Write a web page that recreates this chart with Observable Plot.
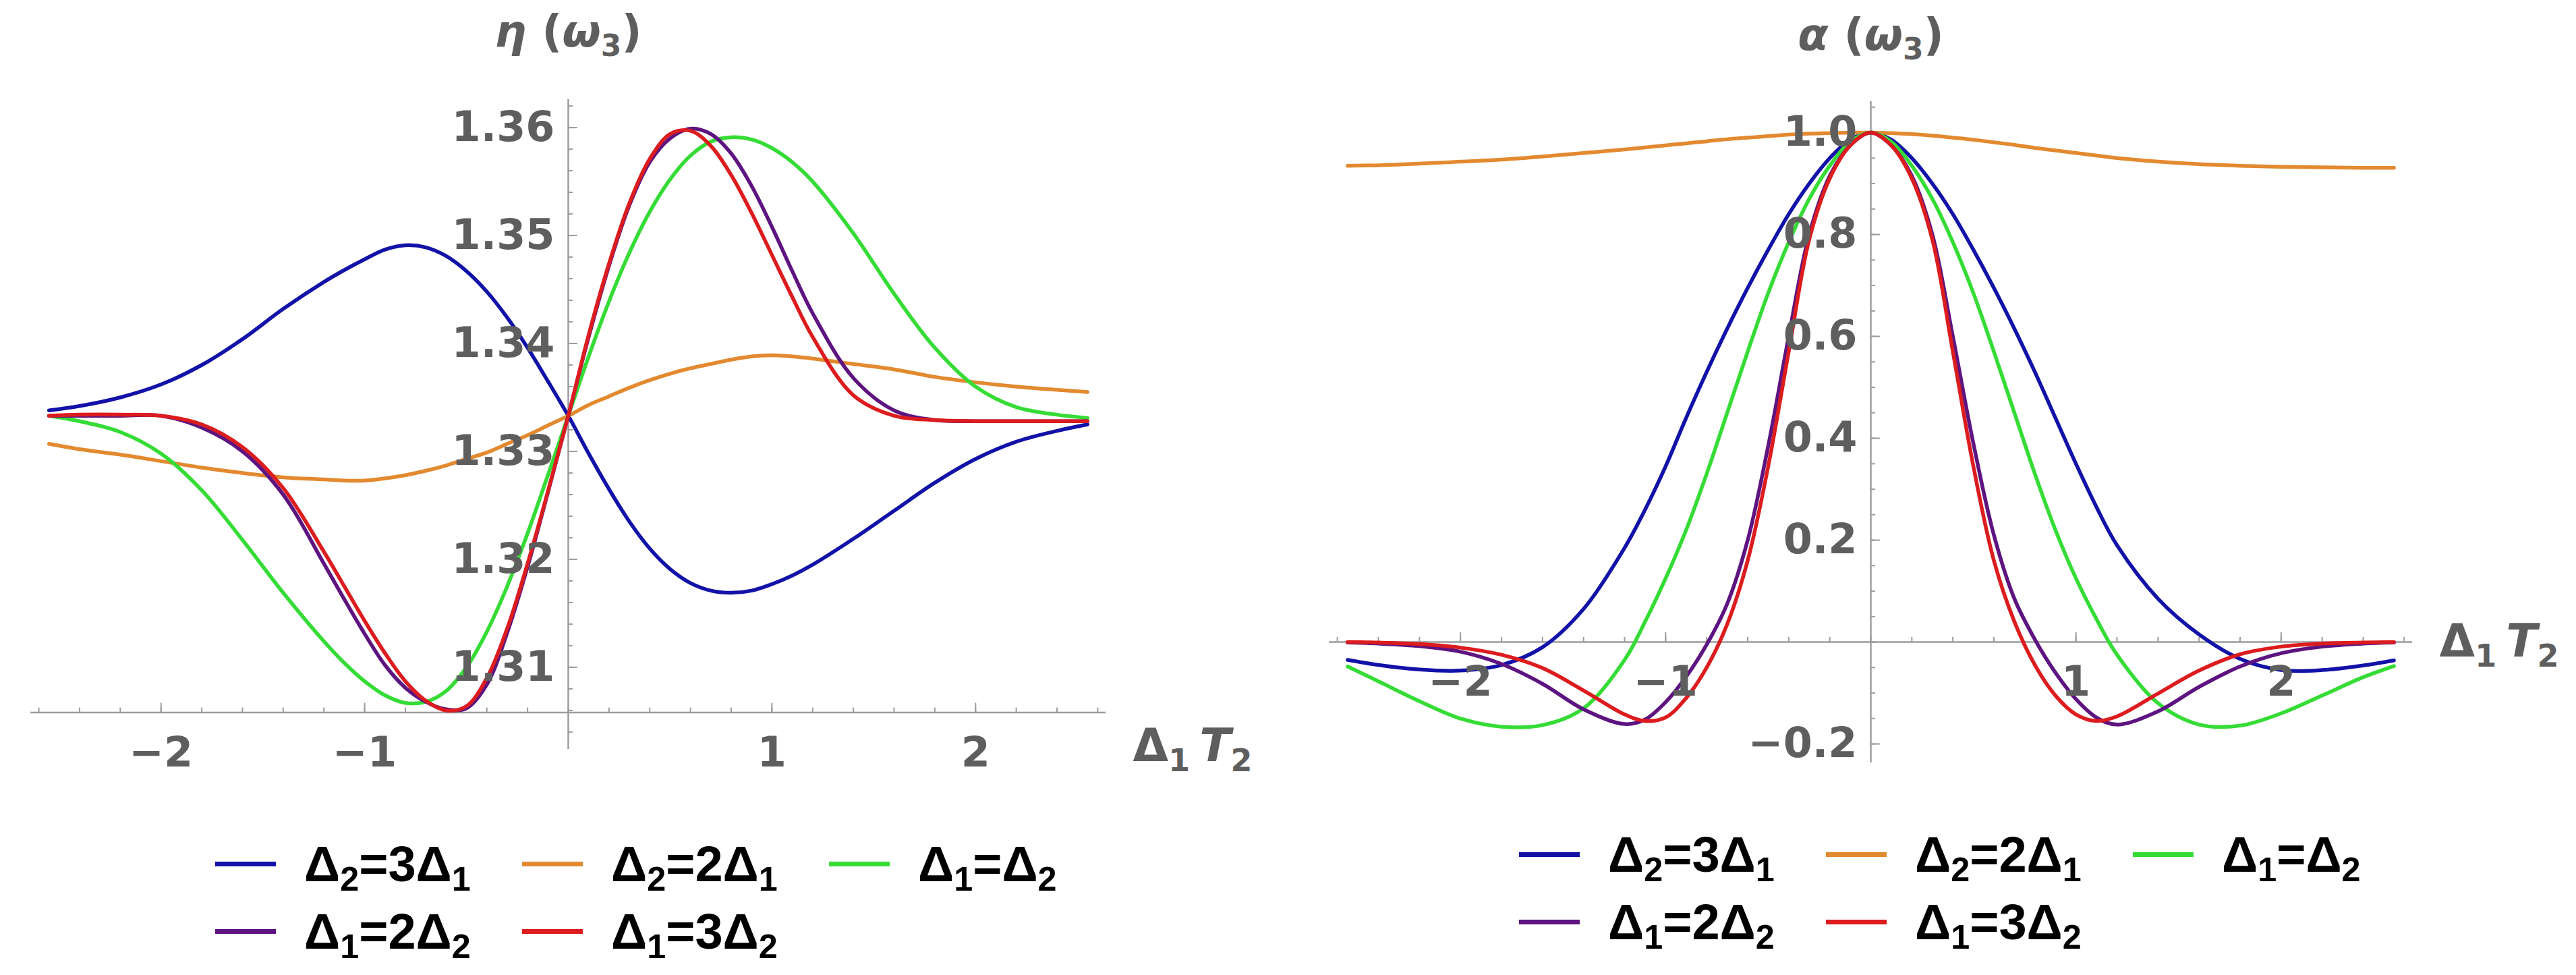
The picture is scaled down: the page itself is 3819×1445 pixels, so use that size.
<!DOCTYPE html>
<html><head><meta charset="utf-8">
<script src="https://cdn.jsdelivr.net/npm/d3@7"></script>
<script src="https://cdn.jsdelivr.net/npm/@observablehq/plot@0.6"></script>
<style>
html,body{margin:0;padding:0;background:#fff;}
#root{position:relative;width:3819px;height:1445px;overflow:hidden;background:#fff;}
.panel{position:absolute;top:0;}
.item{position:absolute;display:flex;align-items:center;white-space:nowrap;height:100px;
  font-family:"Liberation Sans",Arial,sans-serif;font-weight:bold;font-size:74px;color:#000;}
.sw{display:inline-block;height:7px;width:90px;margin-right:42px;}
.item sub{font-size:68%;vertical-align:-0.28em;line-height:0;}
</style></head><body><div id="root"></div><script>
// ---------------- data ----------------
const xs = [-2.55,-2.4,-2.2,-2.0,-1.8,-1.6,-1.4,-1.2,-1.1,-1.0,-0.9,-0.8,-0.7,-0.6,-0.5,-0.4,-0.3,-0.2,-0.1,0,
            0.1,0.2,0.3,0.4,0.5,0.6,0.7,0.8,0.9,1.0,1.1,1.2,1.4,1.6,1.8,2.0,2.2,2.4,2.55];

const seriesNames  = ["Δ2=3Δ1","Δ2=2Δ1","Δ1=Δ2","Δ1=2Δ2","Δ1=3Δ2"];
const seriesColors = ["#1212a8","#e3892f","#35dc35","#5e1480","#dc1c1e"];

// η(ω3)
const etaBlue   = [1.3338,1.3342,1.3350,1.3362,1.3380,1.3404,1.3432,1.3457,1.3468,1.3478,1.3487,1.3491,1.3489,1.3481,1.3467,1.3448,1.3424,1.3396,1.3365,1.3333,
                   1.3298,1.3265,1.3235,1.3210,1.3191,1.3178,1.3171,1.3169,1.3171,1.3177,1.3185,1.3195,1.3219,1.3245,1.3271,1.3293,1.3309,1.3319,1.3325];
const etaOrange = [1.3307,1.3302,1.3297,1.3291,1.3285,1.3280,1.3276,1.3274,1.3273,1.3273,1.3275,1.3278,1.3282,1.3287,1.3293,1.3299,1.3307,1.3315,1.3324,1.3333,
                   1.3343,1.3351,1.3359,1.3366,1.3372,1.3377,1.3381,1.3385,1.3388,1.3389,1.3388,1.3386,1.3381,1.3376,1.3369,1.3364,1.3360,1.3357,1.3355];
const etaGreen  = [1.3333,1.3328,1.3318,1.3298,1.3264,1.3218,1.3169,1.3124,1.3104,1.3087,1.3074,1.3067,1.3068,1.3078,1.3100,1.3133,1.3175,1.3224,1.3278,1.3333,
                   1.3388,1.3439,1.3484,1.3522,1.3552,1.3574,1.3587,1.3591,1.3589,1.3581,1.3568,1.3550,1.3502,1.3446,1.3396,1.3360,1.3341,1.3334,1.3331];
const etaPurple = [1.3333,1.3333,1.3333,1.3333,1.3322,1.3300,1.3260,1.3196,1.3163,1.3131,1.3102,1.3081,1.3068,1.3061,1.3062,1.3084,1.3132,1.3193,1.3262,1.3333,
                   1.3406,1.3472,1.3528,1.3568,1.3590,1.3599,1.3594,1.3576,1.3546,1.3508,1.3467,1.3428,1.3368,1.3338,1.3329,1.3328,1.3328,1.3328,1.3328];
const etaRed    = [1.3333,1.3334,1.3334,1.3333,1.3325,1.3304,1.3266,1.3207,1.3175,1.3143,1.3113,1.3087,1.3069,1.3060,1.3064,1.3090,1.3136,1.3196,1.3263,1.3333,
                   1.3408,1.3474,1.3530,1.3571,1.3594,1.3597,1.3583,1.3556,1.3521,1.3482,1.3443,1.3406,1.3352,1.3333,1.3329,1.3328,1.3328,1.3328,1.3328];

// α(ω3)
const alphaBlue   = [-0.035,-0.045,-0.054,-0.056,-0.045,-0.010,0.065,0.185,0.260,0.345,0.440,0.530,0.615,0.695,0.770,0.840,0.900,0.950,0.986,1.000,
                     0.986,0.950,0.900,0.840,0.770,0.695,0.615,0.530,0.440,0.350,0.265,0.190,0.085,0.015,-0.033,-0.055,-0.055,-0.046,-0.036];
const alphaOrange = [0.935,0.936,0.939,0.943,0.947,0.953,0.960,0.967,0.971,0.975,0.979,0.983,0.987,0.990,0.993,0.996,0.998,0.999,1.000,1.000,
                     0.999,0.997,0.994,0.990,0.986,0.981,0.976,0.970,0.965,0.960,0.955,0.950,0.943,0.938,0.935,0.933,0.932,0.931,0.931];
const alphaGreen  = [-0.048,-0.077,-0.116,-0.150,-0.166,-0.163,-0.130,-0.035,0.040,0.125,0.220,0.330,0.450,0.570,0.685,0.785,0.870,0.935,0.982,1.000,
                     0.982,0.935,0.870,0.785,0.685,0.570,0.450,0.330,0.220,0.125,0.045,-0.025,-0.120,-0.162,-0.164,-0.140,-0.105,-0.069,-0.047];
const alphaPurple = [-0.001,-0.003,-0.008,-0.019,-0.043,-0.082,-0.132,-0.161,-0.152,-0.118,-0.068,-0.005,0.075,0.200,0.385,0.600,0.800,0.915,0.975,1.000,
                     0.975,0.915,0.800,0.600,0.390,0.210,0.085,0.005,-0.060,-0.112,-0.148,-0.162,-0.136,-0.088,-0.048,-0.022,-0.009,-0.003,-0.001];
const alphaRed    = [0.000,-0.001,-0.004,-0.011,-0.025,-0.051,-0.095,-0.142,-0.155,-0.148,-0.110,-0.050,0.035,0.160,0.345,0.570,0.790,0.910,0.975,1.000,
                     0.975,0.910,0.790,0.570,0.345,0.160,0.040,-0.045,-0.105,-0.142,-0.155,-0.146,-0.101,-0.056,-0.024,-0.009,-0.003,-0.001,0.000];

// ticks
const xTicks = [-2,-1,1,2];
const xTickLabels = ["−2","−1","1","2"];
const etaTicks = [1.31,1.32,1.33,1.34,1.35,1.36];
const etaTickLabels = ["1.31","1.32","1.33","1.34","1.35","1.36"];
const alphaTicks = [-0.2,0.2,0.4,0.6,0.8,1.0];
const alphaTickLabels = ["−0.2","0.2","0.4","0.6","0.8","1.0"];

// ---------------- drawing ----------------
const GRAY_TEXT = "#5e5e5e", AXIS = "#9c9c9c";
const FONT = "DejaVu Sans, Verdana, sans-serif";
const xDomain = [-2.64, 2.64];

const rich = {
  "Δ1 T2": 'Δ<tspan font-size="46px" dy="15">1</tspan><tspan dx="14" dy="-15" font-style="italic">T</tspan><tspan font-size="46px" dy="15">2</tspan>',
  "η(ω3)": '<tspan font-style="italic">η</tspan> (<tspan font-style="italic">ω</tspan><tspan font-size="44px" dy="14">3</tspan><tspan dy="-14">)</tspan>',
  "α(ω3)": '<tspan font-style="italic">α</tspan> (<tspan font-style="italic">ω</tspan><tspan font-size="44px" dy="14">3</tspan><tspan dy="-14">)</tspan>'
};

function panel(o) {
  const marks = [
    Plot.ruleY([o.axisY], {stroke: AXIS, strokeWidth: 2.5}),
    Plot.ruleX([0], {stroke: AXIS, strokeWidth: 2.5}),
    Plot.ruleX(d3.range(-2.6, 2.61, 0.2).map(v => +v.toFixed(1)), {x: d => d, y1: o.axisY, y2: o.axisY, insetTop: -7, stroke: AXIS, strokeWidth: 2}),
    Plot.ruleX(xTicks, {x: d => d, y1: o.axisY, y2: o.axisY, insetTop: -14, stroke: AXIS, strokeWidth: 2}),
    Plot.ruleY(o.yMinor, {y: d => d, x1: 0, x2: 0, insetRight: -7, stroke: AXIS, strokeWidth: 2}),
    Plot.ruleY(o.yTicks, {y: d => d, x1: 0, x2: 0, insetRight: -14, stroke: AXIS, strokeWidth: 2}),
  ];
  o.series.forEach((ys, s) => {
    marks.push(Plot.line(xs.map((x, i) => ({x, y: ys[i]})), {x: "x", y: "y", stroke: seriesColors[s], strokeWidth: 5.5, curve: "catmull-rom"}));
  });
  marks.push(
    Plot.text(xTicks, {x: d => d, y: o.axisY, dy: 60, text: (d, i) => xTickLabels[i], fontSize: 62, fontWeight: "bold", fontFamily: FONT, fill: GRAY_TEXT}),
    Plot.text(o.yTicks, {x: 0, y: d => d, dx: -20, textAnchor: "end", text: (d, i) => o.yTickLabels[i], fontSize: 62, fontWeight: "bold", fontFamily: FONT, fill: GRAY_TEXT}),
    Plot.text(["Δ1 T2"], {x: xDomain[1], y: o.axisY, dx: 40, dy: o.labelDy, textAnchor: "start", text: d => d, fontSize: 68, fontWeight: "bold", fontFamily: FONT, fill: GRAY_TEXT}),
    Plot.text([o.title], {x: 0, y: o.yDomain[1], dy: o.titleDy, text: d => d, fontSize: 66, fontWeight: "bold", fontFamily: FONT, fill: GRAY_TEXT})
  );
  const svg = Plot.plot({
    width: o.width, height: o.height,
    marginTop: o.mt, marginBottom: o.mb, marginLeft: o.ml, marginRight: o.mr,
    x: {domain: xDomain, axis: null},
    y: {domain: o.yDomain, axis: null},
    style: {background: "transparent", overflow: "visible"},
    marks
  });
  svg.querySelectorAll("text").forEach(t => { if (rich[t.textContent]) t.innerHTML = rich[t.textContent]; });
  return svg;
}

const root = document.getElementById("root");

const left = panel({
  width: 1900, height: 1160, mt: 147, mb: 50, ml: 45, mr: 261,
  yDomain: [1.3024, 1.3626], axisY: 1.3058,
  yTicks: etaTicks, yTickLabels: etaTickLabels,
  yMinor: d3.range(1.304, 1.3625, 0.002).map(v => +v.toFixed(3)),
  series: [etaBlue, etaOrange, etaGreen, etaPurple, etaRed],
  title: "η(ω3)", titleDy: -100, labelDy: 50
});
left.classList.add("panel"); left.style.left = "0px";
root.appendChild(left);

const right = panel({
  width: 1919, height: 1160, mt: 150, mb: 30, ml: 70, mr: 243,
  yDomain: [-0.237, 1.061], axisY: 0,
  yTicks: alphaTicks, yTickLabels: alphaTickLabels,
  yMinor: d3.range(-0.2, 1.051, 0.05).map(v => +v.toFixed(2)),
  series: [alphaBlue, alphaOrange, alphaGreen, alphaPurple, alphaRed],
  title: "α(ω3)", titleDy: -98, labelDy: 0
});
right.classList.add("panel"); right.style.left = "1900px";
root.appendChild(right);

// legends (HTML, below the plots)
function legend(baseX, row0CenterY, rowGap) {
  seriesNames.forEach((name, i) => {
    const row = Math.floor(i / 3), col = i % 3;
    const div = document.createElement("div");
    div.className = "item";
    div.style.left = (baseX + col * 455) + "px";
    div.style.top = (row0CenterY + row * rowGap - 50) + "px";
    div.innerHTML = `<span class="sw" style="background:${seriesColors[i]}"></span><span>${name.replace(/Δ(\d)/g, "Δ<sub>$1</sub>")}</span>`;
    root.appendChild(div);
  });
}
legend(319, 1280, 100);
legend(2252, 1266, 100);
</script></body></html>
